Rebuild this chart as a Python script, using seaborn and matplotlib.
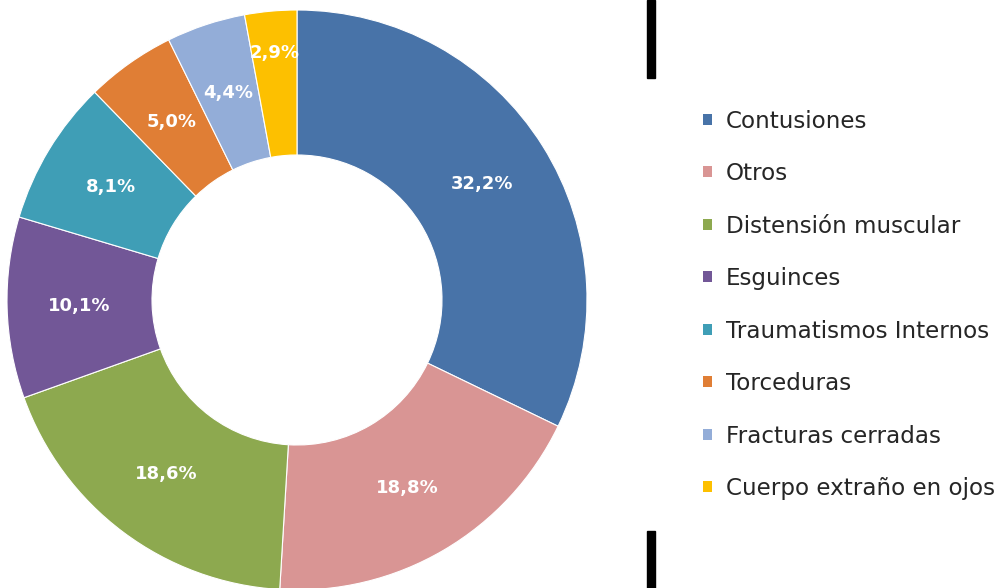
import matplotlib
matplotlib.use("Agg")
import matplotlib.pyplot as plt
from matplotlib.patches import Patch, Rectangle
import numpy as np
import seaborn as sns

categories = ["Contusiones", "Otros", "Distensión muscular", "Esguinces",
              "Traumatismos Internos", "Torceduras", "Fracturas cerradas",
              "Cuerpo extraño en ojos"]
values = [32.2, 18.8, 18.6, 10.1, 8.1, 5.0, 4.4, 2.9]
hex_colors = ["#4873A8", "#D99594", "#8DA94F", "#725797",
              "#3F9EB6", "#E07E35", "#93ADD8", "#FDC000"]

sns.set_style("white")
plt.rcParams['font.family'] = ['DejaVu Sans']
palette = sns.color_palette(hex_colors)

W, H = 999, 588
fig = plt.figure(figsize=(W / 100, H / 100), dpi=100)
cx, cy, R = 297, 300, 290
ax = fig.add_axes([(cx - R) / W, (H - cy - R) / H, 2 * R / W, 2 * R / H])

labels_txt = [f"{v:.1f}%".replace('.', ',') for v in values]
wedges, _ = ax.pie(values, colors=palette, startangle=90, counterclock=False,
                   radius=1.0, wedgeprops=dict(width=0.5, edgecolor='white', linewidth=0.8))
ax.set_xlim(-1, 1)
ax.set_ylim(-1, 1)
ax.set_aspect('equal')
ax.axis('off')

# distance of each percentage label from the centre (fraction of radius)
label_dist = [0.752, 0.752, 0.752, 0.752, 0.752, 0.752, 0.752, 0.855]
total = sum(values)
ang = 90.0
for v, t, r in zip(values, labels_txt, label_dist):
    mid = ang - v / total * 360 / 2
    ang -= v / total * 360
    ax.text(r * np.cos(np.radians(mid)), r * np.sin(np.radians(mid)), t,
            ha='center', va='center', color='white', fontsize=13, fontweight='bold')

handles = [Patch(facecolor=c, edgecolor='none') for c in palette]
fig.legend(handles, categories, loc='upper left',
           bbox_to_anchor=(703 / W, 1 - 109.5 / H), frameon=False,
           fontsize=16.6, handlelength=0.38, handleheight=0.38,
           handletextpad=0.62, labelspacing=1.28, borderpad=0, borderaxespad=0)

# black vertical bars seen in the source image
fig.add_artist(Rectangle((647 / W, 1 - 78 / H), 8 / W, 78 / H,
                         transform=fig.transFigure, color='black'))
fig.add_artist(Rectangle((647 / W, 0), 8 / W, 57 / H,
                         transform=fig.transFigure, color='black'))

fig.savefig("out.png", dpi=100)
